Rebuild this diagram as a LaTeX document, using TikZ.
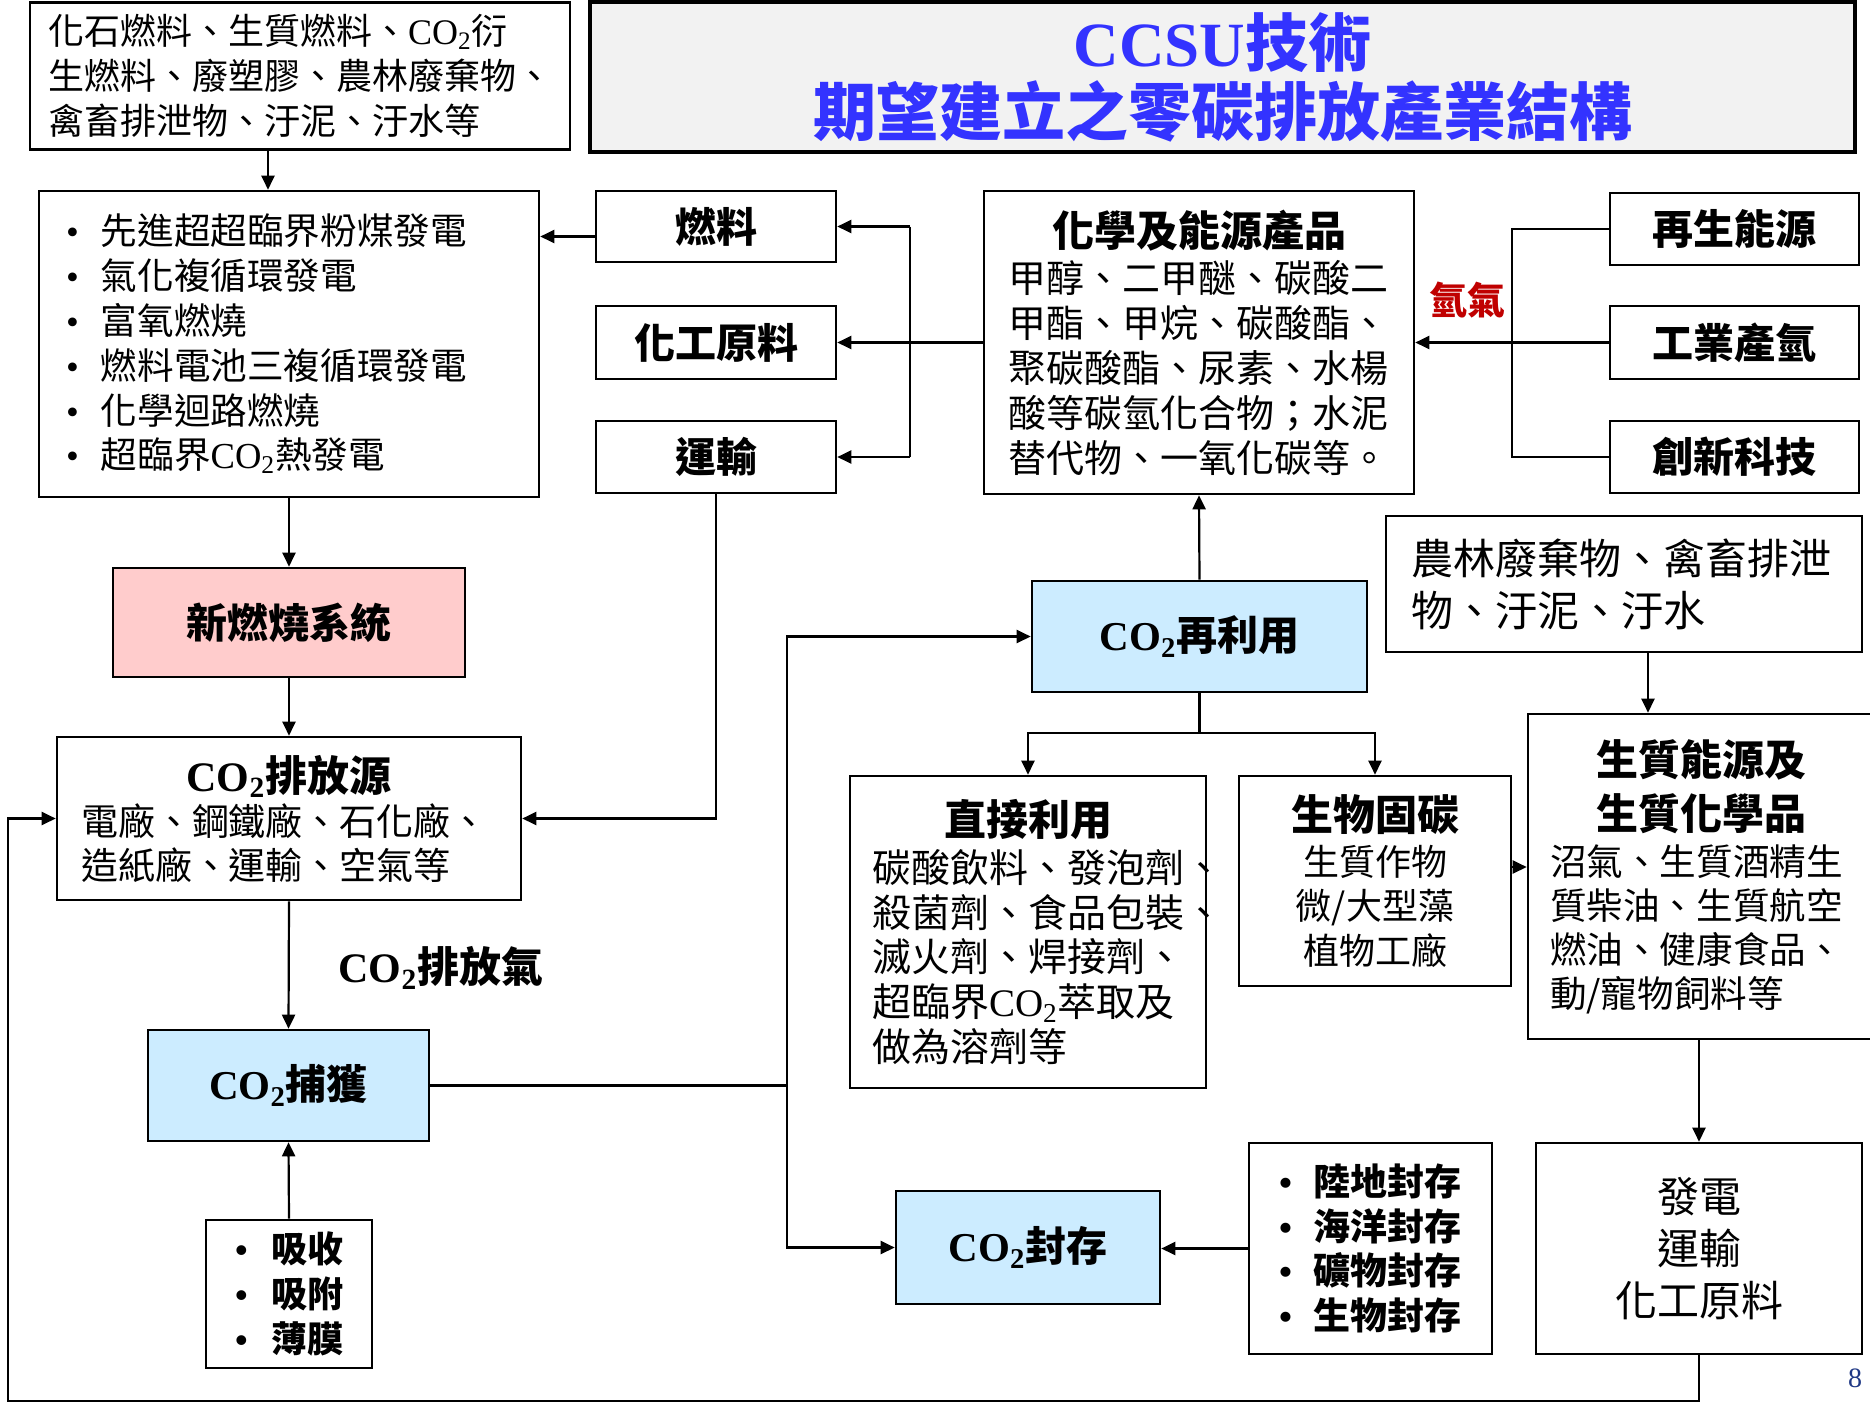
\documentclass[tikz,border=0pt]{standalone}
\usepackage{fontspec}
\setmainfont{Liberation Serif}
\newfontfamily\cjk{Noto Sans CJK TC}
\usetikzlibrary{arrows.meta,calc}
\newcommand\setfs[2]{\fontsize{#1}{#2}\selectfont}
\newcommand\COtwo{{\rmfamily CO\textsubscript{2}}}
\newcommand\lline[2]{\makebox[#1][l]{#2}}
\newcommand\bul[1]{{\rmfamily\textbullet}\hspace{#1}}
\definecolor{titleblue}{RGB}{51,51,255}
\definecolor{pinkfill}{RGB}{255,204,204}
\definecolor{bluefill}{RGB}{204,236,255}
\definecolor{greyfill}{RGB}{242,242,242}
\definecolor{hred}{RGB}{192,0,0}
\definecolor{pagenum}{RGB}{31,56,133}
\tikzset{
  box/.style={draw=black, line width=1.3pt, inner sep=0pt, align=center},
  conn/.style={line width=1.1pt},
  arr/.style={conn, -{Triangle[length=7pt,width=6.5pt]}},
  head/.style={font=\cjk\bfseries\setfs{20.5pt}{24pt}},
}
\begin{document}
\begin{tikzpicture}[x=0.5pt,y=-0.5pt]
\fill[white] (0,0) rectangle (1870,1404);
\useasboundingbox (0,0) rectangle (1870,1404);

% top row
\node[box, minimum width=270pt, minimum height=73.5pt, font=\cjk\setfs{18pt}{22.6pt}] (src) at (300,76)
 {\lline{252pt}{化石燃料、生質燃料、\COtwo 衍}\\\lline{252pt}{生燃料、廢塑膠、農林廢棄物、}\\\lline{252pt}{禽畜排泄物、汙泥、汙水等}};
\node[box, line width=2pt, fill=greyfill, minimum width=632.5pt, minimum height=75pt, text=titleblue, font=\cjk\bfseries\setfs{31.5pt}{34.5pt}] (title) at (1222.5,77)
 {{\rmfamily CCSU}技術\\期望建立之零碳排放產業結構};

% combustion technologies
\node[box, minimum width=250pt, minimum height=153pt, font=\cjk\setfs{18.3pt}{22.4pt}] (list) at (289,344)
 {\lline{223pt}{\bul{11pt}先進超超臨界粉煤發電}\\
  \lline{223pt}{\bul{11pt}氣化複循環發電}\\
  \lline{223pt}{\bul{11pt}富氧燃燒}\\
  \lline{223pt}{\bul{11pt}燃料電池三複循環發電}\\
  \lline{223pt}{\bul{11pt}化學迴路燃燒}\\
  \lline{223pt}{\bul{11pt}超臨界\COtwo 熱發電}};

\node[box, head, minimum width=120pt, minimum height=35.5pt] (fuel) at (716,226.5) {燃料};
\node[box, head, minimum width=120pt, minimum height=36.5pt] (chemraw) at (716,342.5) {化工原料};
\node[box, head, minimum width=120pt, minimum height=36pt] (transport) at (716,457) {運輸};

\node[box, minimum width=215pt, minimum height=151.5pt, font=\cjk\setfs{19pt}{22.4pt}] (chem) at (1199,342.5)
 {{\bfseries\setfs{21pt}{24pt}化學及能源產品}\\[1pt]
  \lline{191pt}{甲醇、二甲醚、碳酸二}\\
  \lline{191pt}{甲酯、甲烷、碳酸酯、}\\
  \lline{191pt}{聚碳酸酯、尿素、水楊}\\
  \lline{191pt}{酸等碳氫化合物；水泥}\\
  \lline{191pt}{替代物、一氧化碳等。}};

\node[box, head, minimum width=124.5pt, minimum height=36pt] (renew) at (1734.5,229) {再生能源};
\node[box, head, minimum width=124.5pt, minimum height=36.5pt] (indh2) at (1734.5,342.5) {工業產氫};
\node[box, head, minimum width=124.5pt, minimum height=36pt] (innov) at (1734.5,457) {創新科技};
\node[font=\cjk\bfseries\setfs{19pt}{22pt}, text=hred, inner sep=0pt] (h2) at (1467,300) {氫氣};

% middle
\node[box, head, fill=pinkfill, minimum width=176pt, minimum height=54.5pt] (newcomb) at (289,622.5) {新燃燒系統};
\node[box, head, fill=bluefill, minimum width=167.5pt, minimum height=55.5pt] (reuse) at (1199.5,636.5) {\COtwo 再利用};
\node[box, minimum width=238pt, minimum height=68pt, font=\cjk\setfs{21pt}{26pt}] (agri) at (1624,584)
 {\lline{213pt}{農林廢棄物、禽畜排泄}\\\lline{213pt}{物、汙泥、汙水}};

\node[box, minimum width=232pt, minimum height=81.5pt, font=\cjk\setfs{18.5pt}{22pt}] (emit) at (289,818.5)
 {{\bfseries\setfs{21pt}{24pt}\COtwo 排放源}\\
  \lline{208pt}{電廠、鋼鐵廠、石化廠、}\\
  \lline{208pt}{造紙廠、運輸、空氣等}};

\node[box, minimum width=178pt, minimum height=156pt, font=\cjk\setfs{19.5pt}{22.4pt}] (direct) at (1028,932)
 {{\bfseries\setfs{21pt}{24pt}直接利用}\\[1pt]
  \lline{156pt}{碳酸飲料、發泡劑、}\\
  \lline{156pt}{殺菌劑、食品包裝、}\\
  \lline{156pt}{滅火劑、焊接劑、}\\
  \lline{156pt}{超臨界\COtwo 萃取及}\\
  \lline{156pt}{做為溶劑等}};

\node[box, minimum width=136pt, minimum height=105pt, font=\cjk\setfs{18pt}{22.4pt}] (bio) at (1375,881)
 {{\bfseries\setfs{21pt}{24pt}生物固碳}\\生質作物\\微/大型藻\\植物工廠};

\node[box, minimum width=173pt, minimum height=162.5pt, font=\cjk\setfs{18.3pt}{22pt}] (biomass) at (1701,876.5)
 {{\bfseries\setfs{21pt}{27pt}生質能源及}\\[5pt]
  {\bfseries\setfs{21pt}{27pt}生質化學品}\\[1pt]
  \lline{151pt}{沼氣、生質酒精生}\\
  \lline{151pt}{質柴油、生質航空}\\
  \lline{151pt}{燃油、健康食品、}\\
  \lline{151pt}{動/寵物飼料等}};

\node[font=\cjk\bfseries\setfs{21pt}{24pt}, inner sep=0pt] (emitgas) at (441,968) {\COtwo 排放氣};

% bottom
\node[box, head, fill=bluefill, minimum width=140.5pt, minimum height=55.5pt] (capture) at (288.5,1085.5) {\COtwo 捕獲};
\node[box, minimum width=83pt, minimum height=74pt, font=\cjk\bfseries\setfs{18pt}{22.5pt}] (capmeth) at (289,1294)
 {\bul{11.7pt}吸收\\\bul{11.7pt}吸附\\\bul{11.7pt}薄膜};
\node[box, head, fill=bluefill, minimum width=132pt, minimum height=56.5pt] (storage) at (1028,1247.5) {\COtwo 封存};
\node[box, minimum width=121.5pt, minimum height=105.5pt, font=\cjk\bfseries\setfs{18.5pt}{22.3pt}] (stormeth) at (1370.5,1248.5)
 {\bul{10.5pt}陸地封存\\\bul{10.5pt}海洋封存\\\bul{10.5pt}礦物封存\\\bul{10.5pt}生物封存};
\node[box, minimum width=163pt, minimum height=105.5pt, font=\cjk\setfs{21pt}{26pt}] (uses) at (1699,1248.5)
 {發電\\運輸\\化工原料};
\node[font=\rmfamily\setfs{14pt}{16pt}, text=pagenum, inner sep=0pt] (pg) at (1855,1378) {8};

% connectors
\draw[arr] ([xshift=-16pt]src.south) -- ([xshift=-16pt]src.south |- list.north);
\draw[arr] ([yshift=-5pt]fuel.west) -- ([yshift=-5pt]fuel.west -| list.east);

\coordinate (cbus) at ($(chem.west)!0.5!(chemraw.east)$);
\draw[conn] (chem.west) -- (cbus);
\draw[conn] (cbus |- fuel.east) -- (cbus |- transport.east);
\draw[arr] (cbus |- fuel.east) -- (fuel.east);
\draw[arr] (cbus) -- (chemraw.east);
\draw[arr] (cbus |- transport.east) -- (transport.east);

\coordinate (hbus) at ($(chem.east)!0.5!(indh2.west)$);
\draw[conn] (renew.west) -- (hbus |- renew.west) -- (hbus |- innov.west) -- (innov.west);
\draw[arr] (indh2.west) -- (chem.east);

\draw[arr] (list.south) -- (newcomb.north);
\draw[arr] (newcomb.south) -- (emit.north);
\draw[arr] (transport.south) |- (emit.east);
\draw[arr] (emit.south) -- (capture.north);
\draw[arr] (capmeth.north) -- (capture.south);

\path (capture.east) ++(357,0) coordinate (sbus);
\draw[conn] (capture.east) -- (sbus);
\draw[arr] (sbus) |- (reuse.west);
\draw[arr] (sbus) |- (storage.west);

\draw[arr] (reuse.north) -- (chem.south);
\path (reuse.south) ++(0,40) coordinate (rsplit);
\draw[conn] (reuse.south) -- (rsplit);
\draw[arr] (rsplit) -| (direct.north);
\draw[arr] (rsplit) -| (bio.north);

\draw[arr] ([yshift=7pt]bio.east) -- ([yshift=7pt]bio.east -| biomass.west);
\draw[arr] ([xshift=12pt]agri.south) -- ([xshift=12pt]agri.south |- biomass.north);
\draw[arr] (uses.north |- biomass.south) -- (uses.north);
\draw[arr] (stormeth.west) -- (stormeth.west -| storage.east);

\path (uses.south) ++(0,46) coordinate (bl1);
\path (emit.west) ++(-48,0) coordinate (bl2);
\draw[arr] (uses.south) -- (bl1) -- (bl2 |- bl1) -- (bl2) -- (emit.west);
\end{tikzpicture}
\end{document}
